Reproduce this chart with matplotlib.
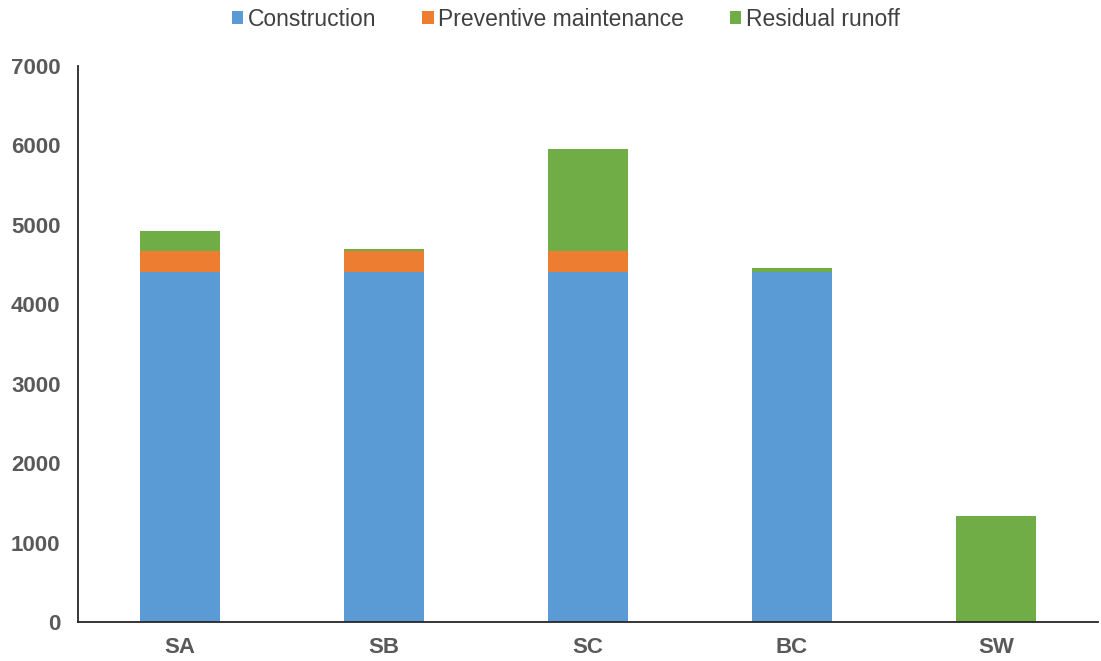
import matplotlib
matplotlib.use("Agg")
import matplotlib.pyplot as plt
import numpy as np

categories = ["SA", "SB", "SC", "BC", "SW"]
construction = [4410, 4410, 4410, 4410, 0]
preventive = [260, 260, 260, 0, 0]
residual = [255, 25, 1277, 50, 1335]
series_names = ["Construction", "Preventive maintenance", "Residual runoff"]
colors = ["#5B9BD5", "#ED7D31", "#70AD47"]
yticks = [0, 1000, 2000, 3000, 4000, 5000, 6000, 7000]

fig = plt.figure(figsize=(11.01, 6.61), dpi=100)
ax = fig.add_axes([0.0708, 0.059, 0.9265, 0.8415])

x = np.arange(len(categories))
w = 0.39
b1 = ax.bar(x, construction, w, color=colors[0], label=series_names[0])
b2 = ax.bar(x, preventive, w, bottom=construction, color=colors[1], label=series_names[1])
base = np.array(construction) + np.array(preventive)
b3 = ax.bar(x, residual, w, bottom=base, color=colors[2], label=series_names[2])

ax.set_xlim(-0.5, 4.5)
ax.set_ylim(0, 7000)
ax.set_yticks(yticks)
ax.set_xticks(x)
ax.set_xticklabels(categories)
for lab in ax.get_xticklabels() + ax.get_yticklabels():
    lab.set_fontfamily(["Liberation Sans", "DejaVu Sans"])
    lab.set_fontweight("bold")
    lab.set_fontsize(16)
    lab.set_color("#595959")
ax.tick_params(axis="both", length=0)
ax.tick_params(axis="y", pad=12.5)
ax.tick_params(axis="x", pad=11)
for s in ["top", "right"]:
    ax.spines[s].set_visible(False)
for s in ["left", "bottom"]:
    ax.spines[s].set_color("#262626")
    ax.spines[s].set_linewidth(1.3)

leg = fig.legend(handles=[b1, b2, b3], labels=series_names, loc="center",
                 bbox_to_anchor=(0.514, 0.971), ncol=3, frameon=False,
                 handlelength=0.5, handleheight=0.5, handletextpad=0.2,
                 columnspacing=2.0,
                 prop=dict(family=["Liberation Sans", "DejaVu Sans"], size=16.5))
for t in leg.get_texts():
    t.set_color("#404040")

fig.savefig("out.png", dpi=100)
